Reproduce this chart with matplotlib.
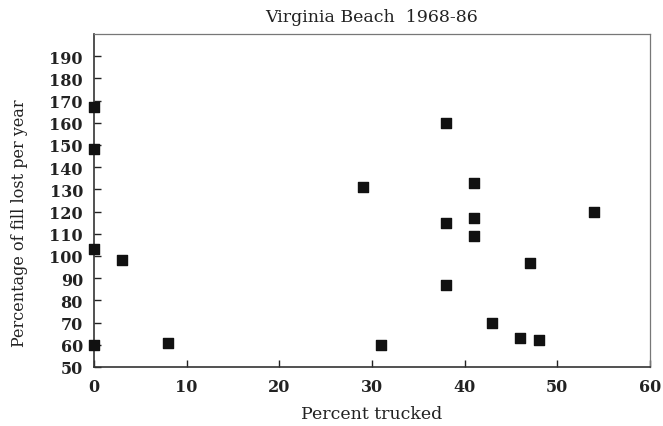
import matplotlib.pyplot as plt

# values
pct_trucked = [0, 0, 0, 0, 3, 8, 29, 31, 38, 38, 38, 41, 41, 41, 43, 46, 47, 48, 54]
pct_lost = [167, 148, 103, 60, 98, 61, 131, 60, 160, 115, 87, 133, 117, 109, 70, 63, 97, 62, 120]

x_ticks = [0, 10, 20, 30, 40, 50, 60]
y_ticks = list(range(50, 200, 10))

plt.rcParams['font.family'] = ['DejaVu Serif']

fig = plt.figure(figsize=(6.63, 4.27), dpi=100)
ax = fig.add_axes([0.1418, 0.1382, 0.8386, 0.7799])

ax.scatter(pct_trucked, pct_lost, marker='s', s=52, color='#111111', clip_on=False, zorder=3)

ax.set_xlim(0, 60)
ax.set_ylim(50, 200)
ax.set_xticks(x_ticks)
ax.set_yticks(y_ticks)
ax.tick_params(direction='in', length=5, width=1, labelsize=11.5, pad=8, colors='#222222')
for lab in ax.get_xticklabels() + ax.get_yticklabels():
    lab.set_fontweight('bold')

for side in ['left', 'bottom']:
    ax.spines[side].set_linewidth(1.2)
    ax.spines[side].set_color('#333333')
for side in ['top', 'right']:
    ax.spines[side].set_linewidth(0.9)
    ax.spines[side].set_color('#777777')

ax.set_title('Virginia Beach  1968-86', fontsize=12.5, pad=9, color='#222222')
ax.set_xlabel('Percent trucked', fontsize=12.5, color='#222222')
ax.set_ylabel('Percentage of fill lost per year', fontsize=11.5, color='#222222')
ax.xaxis.set_label_coords(0.5, -0.115)
ax.yaxis.set_label_coords(-0.118, 0.435)

plt.savefig('out.png', dpi=100)
